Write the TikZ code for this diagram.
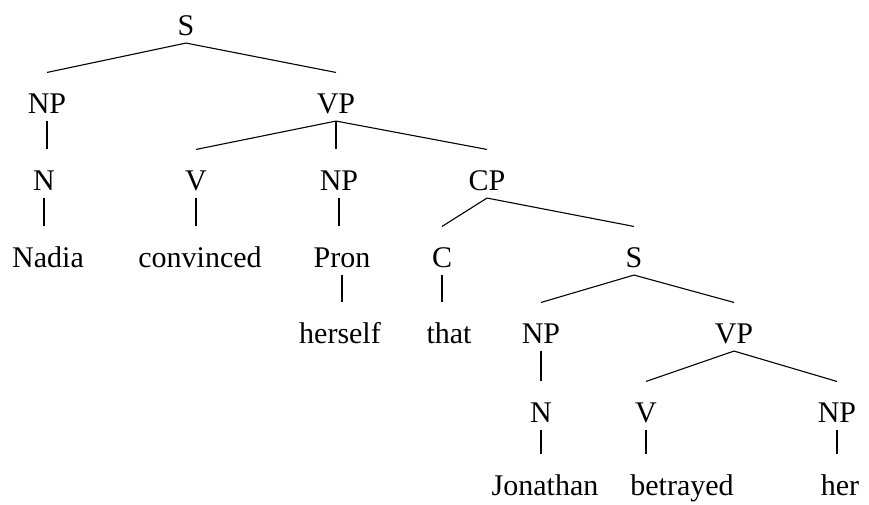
\documentclass[tikz,border=0pt]{standalone}
\usepackage{fontspec}
\setmainfont{Liberation Serif}
\begin{document}
\begin{tikzpicture}[x=1pt,y=-1pt,line width=1.1pt,
        cat/.style={anchor=base,inner sep=0pt,text height=40pt,text depth=7.5pt,font=\fontsize{30}{36}\selectfont}]
            \useasboundingbox (0,0) rectangle (869,504);

            % upper tree
            \node[cat] (s) at (186,35) {S};
            \node[cat] (np) at (47,113) {NP};
            \node[cat] (vp) at (336,113) {VP};
            \node[cat] (n) at (44,190) {N};
            \node[cat] (v) at (196,190) {V};
            \node[cat] (npb) at (339,190) {NP};
            \node[cat] (cp) at (487,190) {CP};
            \node[cat] (nadia) at (48,267) {Nadia};
            \node[cat] (convinced) at (200,267) {convinced};
            \node[cat] (pron) at (342,267) {Pron};
            \node[cat] (c) at (442,267) {C};
            \node[cat] (sb) at (634,267) {S};
            \node[cat] (herself) at (340,343) {herself};
            \node[cat] (that) at (449,343) {that};

            % embedded clause
            \node[cat] (npc) at (541,343) {NP};
            \node[cat] (vpc) at (734,343) {VP};
            \node[cat] (nc) at (541,422) {N};
            \node[cat] (vc) at (646,422) {V};
            \node[cat] (npd) at (837,422) {NP};
            \node[cat] (jonathan) at (545,495) {Jonathan};
            \node[cat] (betrayed) at (682,495) {betrayed};
            \node[cat] (her) at (840,495) {her};

            \foreach \p/\c in {s/np,s/vp,vp/v,vp/cp,cp/c,cp/sb,sb/npc,sb/vpc,vpc/vc,vpc/npd}
                \draw (\p.south) -- (\c.north);
            \foreach \p/\c in {np/n,n/nadia,v/convinced,vp/npb,npb/pron,pron/herself,c/that,npc/nc,nc/jonathan,vc/betrayed,npd/her}
                \draw (\p.south) -- (\p.south |- \c.north);
        \end{tikzpicture}
\end{document}
